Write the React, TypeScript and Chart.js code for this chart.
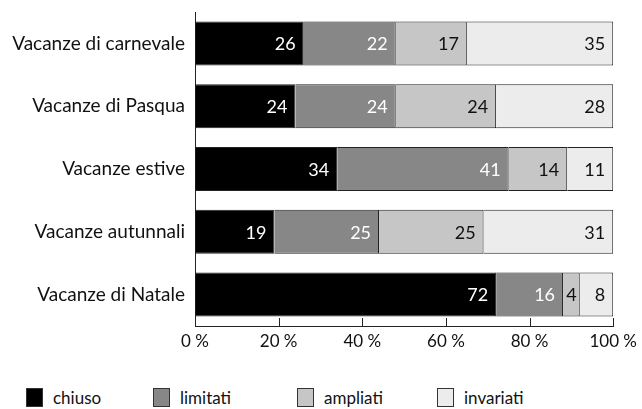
import React, { useEffect, useRef } from "react";
import { Chart, registerables } from "chart.js";

Chart.register(...registerables);

// Holiday periods and the share (%) for each status
const categories = [
  "Vacanze di carnevale",
  "Vacanze di Pasqua",
  "Vacanze estive",
  "Vacanze autunnali",
  "Vacanze di Natale",
];
const seriesNames = ["chiuso", "limitati", "ampliati", "invariati"];
const chiuso = [26, 24, 34, 19, 72];
const limitati = [22, 24, 41, 25, 16];
const ampliati = [17, 24, 14, 25, 4];
const invariati = [35, 28, 11, 31, 8];
const xTicks = [0, 20, 40, 60, 80, 100];

const fills = ["#000000", "#878787", "#c6c6c6", "#ececec"];
const labelColors = ["#ffffff", "#ffffff", "#111111", "#111111"];
const FONT = "Lato, 'Open Sans', sans-serif";

// Draws value labels right-aligned at the end of each segment
const valueLabels = {
  id: "valueLabels",
  afterDatasetsDraw(chart: any) {
    const ctx = chart.ctx;
    ctx.save();
    ctx.font = `18px ${FONT}`;
    ctx.textBaseline = "middle";
    chart.data.datasets.forEach((ds: any, i: number) => {
      const meta = chart.getDatasetMeta(i);
      meta.data.forEach((bar: any, j: number) => {
        const { x, base, y } = bar.getProps(["x", "base", "y"], true);
        const text = String(ds.data[j]);
        const w = ctx.measureText(text).width;
        const left = Math.min(x, base);
        const right = Math.max(x, base);
        let tx = right - 8;
        if (tx - w < left + 3) tx = (left + right) / 2 + w / 2;
        ctx.fillStyle = labelColors[i];
        ctx.textAlign = "right";
        ctx.fillText(text, tx, y + 1);
      });
    });
    ctx.restore();
  },
};

// Tick marks on the value axis, pointing up into the plot
const innerTicks = {
  id: "innerTicks",
  afterDraw(chart: any) {
    const scale = chart.scales.x;
    const { bottom } = chart.chartArea;
    const ctx = chart.ctx;
    ctx.save();
    ctx.strokeStyle = "#222";
    ctx.lineWidth = 1;
    scale.ticks.forEach((t: any) => {
      const px = Math.round(scale.getPixelForValue(t.value)) + 0.5;
      ctx.beginPath();
      ctx.moveTo(px, bottom);
      ctx.lineTo(px, bottom - 8);
      ctx.stroke();
    });
    ctx.restore();
  },
};

export default function App() {
  const ref = useRef<HTMLCanvasElement>(null);

  useEffect(() => {
    const values = [chiuso, limitati, ampliati, invariati];
    const chart = new Chart(ref.current!, {
      type: "bar",
      data: {
        labels: categories,
        datasets: seriesNames.map((name, i) => ({
          label: name,
          data: values[i],
          backgroundColor: fills[i],
          borderColor: "#222222",
          borderWidth: 1,
          barPercentage: 1,
          categoryPercentage: 0.7,
        })),
      },
      options: {
        indexAxis: "y",
        responsive: false,
        animation: false,
        layout: { padding: { top: 12, right: 27, left: 0, bottom: 0 } },
        plugins: { legend: { display: false }, tooltip: { enabled: false } },
        scales: {
          x: {
            stacked: true,
            min: 0,
            max: 100,
            afterBuildTicks(scale: any) {
              scale.ticks = xTicks.map((v) => ({ value: v }));
            },
            afterFit(scale: any) {
              scale.height = 34;
            },
            grid: { drawOnChartArea: false, drawTicks: false },
            border: { display: true, color: "#222", width: 1 },
            ticks: {
              color: "#111",
              padding: 5,
              font: { family: FONT, size: 17 },
              callback: (v: any) => `${v} %`,
            },
          },
          y: {
            stacked: true,
            afterFit(scale: any) {
              scale.width = 195;
              scale.paddingTop = 0;
              scale.paddingBottom = 0;
            },
            grid: { drawOnChartArea: false, drawTicks: false },
            border: { display: true, color: "#222", width: 1 },
            ticks: {
              color: "#111",
              padding: 10,
              font: { family: FONT, size: 19 },
            },
          },
        },
      },
      plugins: [valueLabels, innerTicks],
    });
    return () => chart.destroy();
  }, []);

  const legendLeft = [26, 153, 297, 437];

  return (
    <div style={{ position: "absolute", left: 0, top: 0, width: 642, height: 409, background: "#fff" }}>
      <canvas ref={ref} width={642} height={360} style={{ display: "block", width: 642, height: 360 }} />
      {seriesNames.map((name, i) => (
        <div
          key={name}
          style={{
            position: "absolute",
            left: legendLeft[i],
            top: 387,
            height: 20,
            display: "flex",
            alignItems: "center",
            fontFamily: FONT,
            fontSize: 17,
            color: "#111",
          }}
        >
          <span
            style={{
              display: "inline-block",
              width: 17,
              height: 19,
              boxSizing: "border-box",
              background: fills[i],
              border: "1px solid #333",
              marginRight: 10,
            }}
          />
          {name}
        </div>
      ))}
    </div>
  );
}
